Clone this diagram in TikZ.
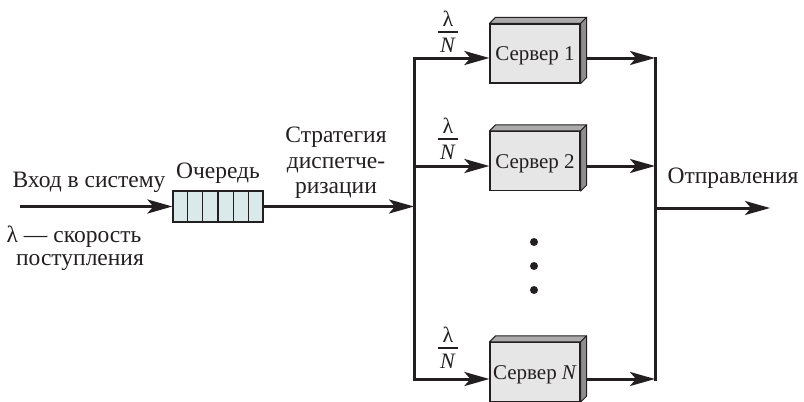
\documentclass[tikz,border=0pt]{standalone}
\usepackage{fontspec}
\setmainfont{Liberation Serif}
\usetikzlibrary{arrows.meta,calc}
\definecolor{ink}{HTML}{231F20}
\definecolor{qfill}{HTML}{DAEAEA}
\definecolor{sfront}{HTML}{E6E6E6}
\definecolor{stopface}{HTML}{ABABAB}
\definecolor{sside}{HTML}{8E8E8E}
\begin{document}
\begin{tikzpicture}[x=1pt,y=-1pt,
  font=\fontsize{23.5}{27}\selectfont,
  txt/.style={inner sep=0pt, anchor=base, text=ink},
  frac/.style={txt, font=\fontsize{22}{26}\selectfont},
  flow/.style={draw=ink, line width=3pt},
  tip/.tip={Stealth[length=25pt,width=14pt,inset=6pt]},
  arr/.style={flow, -tip},
  server/.style={draw=ink, fill=sfront, line width=1.2pt, minimum width=90pt, minimum height=59pt, inner sep=0pt, text height=14pt, text depth=0pt, text=ink, font=\fontsize{21}{25}\selectfont},
  queue/.style={draw=ink, fill=qfill, line width=1.2pt, minimum width=90pt, minimum height=31pt, inner sep=0pt},
  face/.style={draw=ink, line width=1pt, line join=round},
  dotnode/.style={circle, fill=ink, inner sep=0pt, minimum size=8pt}]
\useasboundingbox (0,0) rectangle (804,402);

% nodes
\node[queue] (q) at (218,206.5) {};
\node[server] (s1) at (535,53.5) {Сервер 1};
\node[server] (s2) at (535,161) {Сервер 2};
\node[server] (sN) at (535,372) {Сервер \textit{N}};

% queue cells
\foreach \i in {1,...,5}
  \draw[ink, line width=1.2pt] ($(q.north west)!\i/6!(q.north east)$) -- ($(q.south west)!\i/6!(q.south east)$);

% 3D faces of servers
\foreach \s in {s1,s2,sN}{
  \draw[face, fill=stopface] (\s.north west) -- ++(6,-6) -- ([shift={(6,-6)}]\s.north east) -- (\s.north east) -- cycle;
  \draw[face, fill=sside] (\s.north east) -- ([shift={(6,-6)}]\s.north east) -- ([shift={(6,-6)}]\s.south east) -- (\s.south east) -- cycle;
}

% coordinates
\coordinate (src) at (20,206.5);
\coordinate (b1) at (414,58);
\coordinate (b2) at (414,166);
\coordinate (bN) at (414,379);
\coordinate (r1) at (655,58);
\coordinate (r2) at (655,166);
\coordinate (rN) at (655,379);
\coordinate (out) at (770,208);

% connectors
\draw[arr] (src) -- (q.west);
\draw[arr] (q.east) -- (q.east -| b1);
\draw[flow, tip-tip] (b1 -| s1.west) -- (b1) -- (bN) -- (bN -| sN.west);
\draw[arr] (b2) -- (b2 -| s2.west);
\draw[arr] ([xshift=6pt]s1.east |- r1) -- (r1);
\draw[arr] ([xshift=6pt]s2.east |- r2) -- (r2);
\draw[arr] ([xshift=6pt]sN.east |- rN) -- (rN);
\draw[flow, line cap=rect] (r1) -- (rN);
\draw[arr] (out -| r1) -- (out);

% fractions lambda/N
\foreach \b/\n in {32/a,139/b,348/c}{
  \node[frac] (lam\n) at (448,\b-6) {λ};
  \draw[ink, line width=1.5pt] (438,\b) -- (458,\b);
  \node[frac] (N\n) at (448,\b+20) {\textit{N}};
}

% dots
\node[dotnode] (d1) at (534,242) {};
\node[dotnode] (d2) at (534,266) {};
\node[dotnode] (d3) at (534,290) {};

% labels
\node[txt] (lin) at (89,187) {Вход в систему};
\node[txt] (lrate) at (74,242) {λ — скорость};
\node[txt] (lrate2) at (80,265) {поступления};
\node[txt] (lq) at (218,178) {Очередь};
\node[txt] (ld1) at (336,142) {Стратегия};
\node[txt] (ld2) at (336,168) {диспетче-};
\node[txt] (ld3) at (336,193) {ризации};
\node[txt] (lout) at (733,183) {Отправления};
\end{tikzpicture}
\end{document}
